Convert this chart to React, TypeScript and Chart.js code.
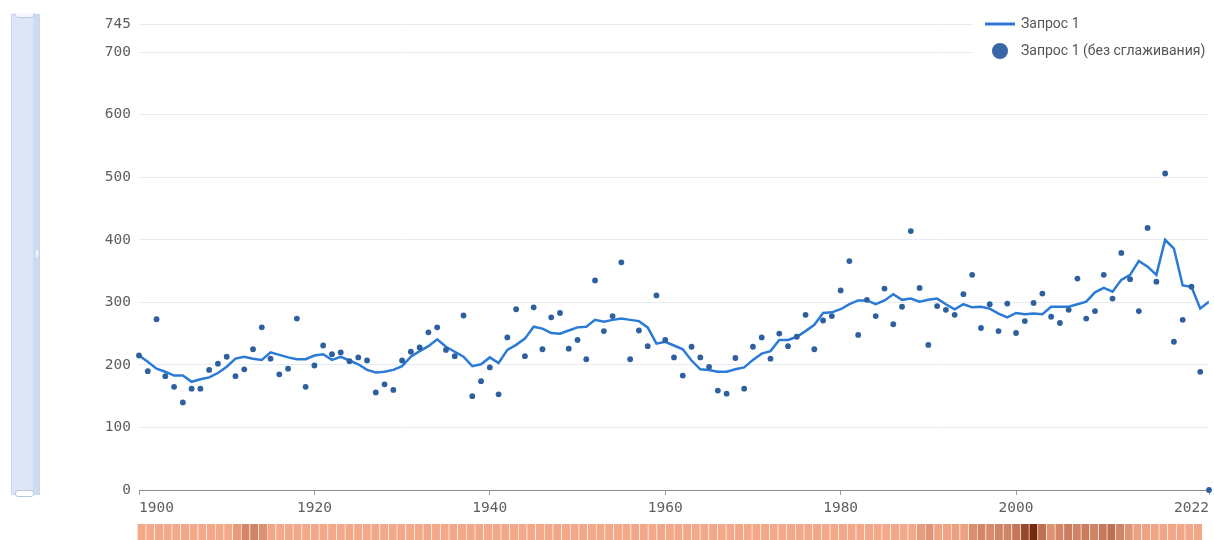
import React, { useEffect, useRef } from "react";
import { Chart, registerables } from "chart.js";

Chart.register(...registerables);

const years = [
  1900, 1901, 1902, 1903, 1904, 1905, 1906, 1907, 1908, 1909,
  1910, 1911, 1912, 1913, 1914, 1915, 1916, 1917, 1918, 1919,
  1920, 1921, 1922, 1923, 1924, 1925, 1926, 1927, 1928, 1929,
  1930, 1931, 1932, 1933, 1934, 1935, 1936, 1937, 1938, 1939,
  1940, 1941, 1942, 1943, 1944, 1945, 1946, 1947, 1948, 1949,
  1950, 1951, 1952, 1953, 1954, 1955, 1956, 1957, 1958, 1959,
  1960, 1961, 1962, 1963, 1964, 1965, 1966, 1967, 1968, 1969,
  1970, 1971, 1972, 1973, 1974, 1975, 1976, 1977, 1978, 1979,
  1980, 1981, 1982, 1983, 1984, 1985, 1986, 1987, 1988, 1989,
  1990, 1991, 1992, 1993, 1994, 1995, 1996, 1997, 1998, 1999,
  2000, 2001, 2002, 2003, 2004, 2005, 2006, 2007, 2008, 2009,
  2010, 2011, 2012, 2013, 2014, 2015, 2016, 2017, 2018, 2019,
  2020, 2021, 2022,
];

const rawValues = [
  215, 190, 273, 182, 165, 140, 162, 162, 192, 202,
  213, 182, 193, 225, 260, 210, 185, 194, 274, 165,
  199, 231, 217, 220, 206, 212, 207, 156, 169, 160,
  207, 221, 228, 252, 260, 224, 214, 279, 150, 174,
  196, 153, 244, 289, 214, 292, 225, 276, 283, 226,
  240, 209, 335, 254, 278, 364, 209, 255, 230, 311,
  240, 212, 183, 229, 212, 197, 159, 154, 211, 162,
  229, 244, 210, 250, 230, 245, 280, 225, 271, 278,
  319, 366, 248, 304, 278, 322, 265, 293, 414, 323,
  232, 294, 288, 280, 313, 344, 259, 297, 254, 298,
  251, 270, 299, 314, 277, 267, 288, 338, 274, 286,
  344, 306, 379, 337, 286, 419, 333, 506, 237, 272,
  325, 189, 0,
];

const smoothValues = [
  215, 205, 194, 189, 183, 183, 173, 177, 180, 187,
  197, 210, 213, 210, 208, 220, 216, 212, 209, 209,
  215, 217, 208, 213, 207, 201, 192, 188, 189, 192,
  198, 213, 222, 230, 241, 229, 221, 213, 198, 201,
  212, 203, 224, 232, 242, 261, 258, 251, 250, 255,
  260, 261, 272, 269, 272, 274, 272, 270, 260, 234,
  237, 231, 225, 207, 193, 192, 189, 189, 193, 196,
  208, 218, 222, 240, 240, 245, 254, 264, 283, 284,
  289, 297, 303, 303, 297, 303, 313, 304, 306, 301,
  304, 306, 297, 289, 297, 292, 293, 290, 282, 276,
  283, 281, 282, 281, 293, 293, 293, 297, 301, 316,
  323, 317, 336, 344, 366, 357, 344, 400, 386, 327,
  325, 290, 301,
];

const heatIntensity = [
  0.02, 0.02, 0.03, 0.02, 0.02, 0.03, 0.02, 0.02, 0.03, 0.02,
  0.02, 0.12, 0.28, 0.3, 0.2, 0.03, 0.02, 0.02, 0.03, 0.02,
  0.02, 0.03, 0.02, 0.02, 0.03, 0.02, 0.02, 0.03, 0.02, 0.02,
  0.03, 0.02, 0.02, 0.03, 0.02, 0.02, 0.03, 0.02, 0.02, 0.03,
  0.02, 0.02, 0.03, 0.02, 0.02, 0.03, 0.02, 0.02, 0.03, 0.02,
  0.02, 0.03, 0.02, 0.02, 0.03, 0.02, 0.02, 0.03, 0.02, 0.02,
  0.03, 0.02, 0.02, 0.03, 0.02, 0.02, 0.03, 0.02, 0.02, 0.03,
  0.02, 0.02, 0.03, 0.02, 0.02, 0.03, 0.02, 0.02, 0.03, 0.02,
  0.02, 0.03, 0.02, 0.02, 0.03, 0.02, 0.02, 0.03, 0.02, 0.02,
  0.12, 0.18, 0.06, 0.06, 0.08, 0.08, 0.22, 0.28, 0.25, 0.3,
  0.3, 0.4, 0.75, 1.0, 0.45, 0.2, 0.28, 0.35, 0.3, 0.35,
  0.3, 0.38, 0.45, 0.3, 0.18, 0.08, 0.06, 0.05, 0.05, 0.04,
  0.04, 0.03, 0.03,
];

const yTickValues = [0, 100, 200, 300, 400, 500, 600, 700, 745];
const xTickValues = [1900, 1920, 1940, 1960, 1980, 2000, 2022];

const LINE_LABEL = "Запрос 1";
const DOT_LABEL = "Запрос 1 (без сглаживания)";

const LINE_COLOR = "#2a7ad6";
const DOT_COLOR = "#2e5f9f";
const TICK_FONT = { family: "'DejaVu Sans Mono', monospace", size: 14.5 };
const TICK_COLOR = "#5e5e5e";

function heatColor(t: number): string {
  const lo = [246, 172, 140];
  const hi = [120, 40, 12];
  const c = lo.map((v, i) => Math.round(v + (hi[i] - v) * t));
  return `rgb(${c[0]},${c[1]},${c[2]})`;
}

const legendPlugin = {
  id: "customLegend",
  afterDraw(chart: any) {
    const ctx = chart.ctx as CanvasRenderingContext2D;
    const ds = chart.data.datasets;
    ctx.save();
    ctx.fillStyle = "#ffffff";
    ctx.fillRect(973, 4, 241, 62);
    ctx.strokeStyle = ds[0].borderColor;
    ctx.lineWidth = 3;
    ctx.beginPath();
    ctx.moveTo(985, 24);
    ctx.lineTo(1015, 24);
    ctx.stroke();
    ctx.fillStyle = "#3866a6";
    ctx.beginPath();
    ctx.arc(1000, 51, 8, 0, Math.PI * 2);
    ctx.fill();
    ctx.font = "14px Roboto";
    ctx.fillStyle = "#555555";
    ctx.textBaseline = "middle";
    ctx.textAlign = "left";
    ctx.fillText(ds[0].label, 1021, 24);
    ctx.fillText(ds[1].label, 1021, 51);
    ctx.restore();
  },
};

export default function App() {
  const mainRef = useRef<HTMLCanvasElement | null>(null);
  const heatRef = useRef<HTMLCanvasElement | null>(null);

  useEffect(() => {
    const main = new Chart(mainRef.current as HTMLCanvasElement, {
      type: "line",
      data: {
        datasets: [
          {
            label: LINE_LABEL,
            data: years.map((x, i) => ({ x, y: smoothValues[i] })),
            borderColor: LINE_COLOR,
            borderWidth: 2.5,
            pointRadius: 0,
            tension: 0,
            fill: false,
            order: 1,
          },
          {
            label: DOT_LABEL,
            data: years.map((x, i) => ({ x, y: rawValues[i] })),
            showLine: false,
            pointRadius: 2.9,
            pointBackgroundColor: DOT_COLOR,
            pointBorderWidth: 0,
            borderColor: DOT_COLOR,
            order: 0,
            clip: false as any,
          },
        ],
      },
      options: {
        responsive: false,
        animation: false,
        layout: { padding: { left: 0, top: 24, right: 5, bottom: 20 } },
        plugins: { legend: { display: false }, tooltip: { enabled: false } },
        scales: {
          x: {
            type: "linear",
            min: 1900,
            max: 2022,
            afterBuildTicks: (s: any) => {
              s.ticks = xTickValues.map((v) => ({ value: v }));
            },
            afterFit: (s: any) => {
              s.height = 30;
            },
            grid: {
              drawOnChartArea: false,
              drawTicks: true,
              tickLength: 5,
              color: "#9a9a9a",
            },
            border: { display: true, color: "#8a8a8a", width: 1 },
            ticks: {
              align: "inner",
              padding: 5,
              font: TICK_FONT,
              color: TICK_COLOR,
              maxRotation: 0,
              autoSkip: false,
              callback: (v: any) => String(v),
            },
          },
          y: {
            type: "linear",
            min: 0,
            max: 745,
            afterBuildTicks: (s: any) => {
              s.ticks = yTickValues.map((v) => ({ value: v }));
            },
            afterFit: (s: any) => {
              s.width = 139;
            },
            grid: {
              drawTicks: false,
              color: (c: any) => (c.tick && c.tick.value === 0 ? "rgba(0,0,0,0)" : "#e6ebf4"),
              lineWidth: 1,
            },
            border: { display: false },
            ticks: {
              padding: 8,
              font: TICK_FONT,
              color: TICK_COLOR,
              callback: (v: any) => String(v),
            },
          },
        },
      } as any,
      plugins: [legendPlugin],
    });

    const heat = new Chart(heatRef.current as HTMLCanvasElement, {
      type: "bar",
      data: {
        labels: years.map(String),
        datasets: [
          {
            data: years.map(() => 1),
            backgroundColor: heatIntensity.map(heatColor),
            borderColor: "rgba(255,230,218,0.22)",
            borderWidth: { left: 1, right: 0, top: 0, bottom: 0 } as any,
            borderSkipped: false,
            barPercentage: 1,
            categoryPercentage: 1,
          },
        ],
      },
      options: {
        responsive: false,
        animation: false,
        layout: { padding: 0 },
        plugins: { legend: { display: false }, tooltip: { enabled: false } },
        scales: {
          x: { display: false },
          y: { display: false, min: 0, max: 1 },
        },
      } as any,
    });

    return () => {
      main.destroy();
      heat.destroy();
    };
  }, []);

  return (
    <div style={{ position: "fixed", left: 0, top: 0, width: 1214, height: 540, background: "#fff", overflow: "hidden" }}>
      <canvas ref={mainRef} width={1214} height={540} style={{ position: "absolute", left: 0, top: 0 }} />
      <canvas ref={heatRef} width={1065} height={16} style={{ position: "absolute", left: 137, top: 524 }} />
      <div style={{ position: "absolute", left: 11, top: 14, width: 29, height: 481, background: "#dde6f6", border: "1px solid #c9d6ec", boxSizing: "border-box" }} />
      <div style={{ position: "absolute", left: 33, top: 15, width: 6, height: 479, background: "#cddbf0" }} />
      <div style={{ position: "absolute", left: 14, top: 13, width: 19, height: 4, background: "#f4f7fc", border: "1px solid #b9c8e2", borderTop: "none", borderRadius: "0 0 5px 5px" }} />
      <div style={{ position: "absolute", left: 36, top: 250, width: 2, height: 7, background: "#f2f6fc" }} />
      <div style={{ position: "absolute", left: 15, top: 490, width: 17, height: 5, background: "#ffffff", border: "1px solid #b9c8e2", borderRadius: 3 }} />
    </div>
  );
}
